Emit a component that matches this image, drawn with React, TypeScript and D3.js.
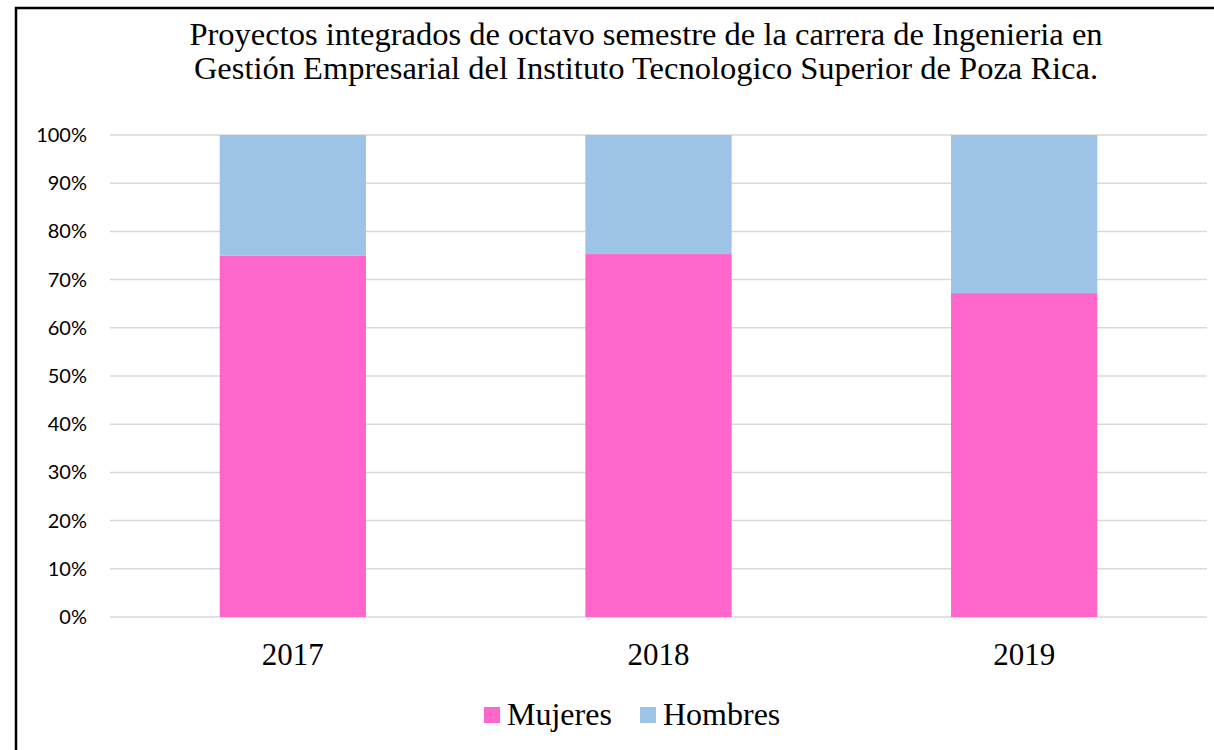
import React from "react";
import * as d3 from "d3";

const categories = ["2017", "2018", "2019"];
const mujeres = [75.0, 75.3, 67.2];
const hombres = [25.0, 24.7, 32.8];
const yTicks = [0, 10, 20, 30, 40, 50, 60, 70, 80, 90, 100];
const seriesNames = ["Mujeres", "Hombres"];
const seriesColors = ["#FF66CC", "#9DC3E6"];
const titleLines = [
  "Proyectos integrados de octavo semestre de la carrera de Ingenieria en",
  "Gestión Empresarial del Instituto Tecnologico Superior de Poza Rica.",
];

export default function App() {
  const W = 1214, H = 750;
  const left = 110, right = 1207, top = 135, bottom = 617;
  const x = d3.scaleBand().domain(categories).range([left, right]).paddingInner(0.6).paddingOuter(0.3);
  const y = d3.scaleLinear().domain([0, 100]).range([bottom, top]);
  const rows = categories.map((c, i) => ({ cat: c, Mujeres: mujeres[i], Hombres: hombres[i] }));
  const stack = d3.stack<any>().keys(seriesNames)(rows);

  return (
    <svg width={W} height={H} style={{ position: "absolute", left: 0, top: 0, background: "#fff" }}>
      <rect x={16} y={8} width={1220} height={760} fill="#fff" stroke="#000" strokeWidth={2.5} />
      {titleLines.map((t, i) => (
        <text key={i} x={646} y={45 + i * 34} textAnchor="middle" fontFamily="Liberation Serif" fontSize={32.5} fill="#000">
          {t}
        </text>
      ))}
      {yTicks.map((t) => (
        <g key={t}>
          <line x1={left} x2={right} y1={y(t)} y2={y(t)} stroke="#D9D9D9" strokeWidth={1.5} />
          <text x={87} y={y(t) + 7} textAnchor="end" fontFamily="Lato" fontSize={20} fill="#000">
            {t}%
          </text>
        </g>
      ))}
      {stack.map((s, si) =>
        s.map((d, i) => (
          <rect
            key={si + "-" + i}
            x={x(categories[i])}
            width={x.bandwidth()}
            y={y(d[1])}
            height={y(d[0]) - y(d[1])}
            fill={seriesColors[si]}
          />
        ))
      )}
      {categories.map((c) => (
        <text key={c} x={(x(c) as number) + x.bandwidth() / 2} y={665} textAnchor="middle" fontFamily="Liberation Serif" fontSize={31} fill="#000">
          {c}
        </text>
      ))}
      {seriesNames.map((n, i) => {
        const lx = [484, 640][i];
        return (
          <g key={n}>
            <rect x={lx} y={707} width={16} height={16} fill={seriesColors[i]} />
            <text x={lx + 23} y={725} fontFamily="Liberation Serif" fontSize={32} fill="#000">
              {n}
            </text>
          </g>
        );
      })}
    </svg>
  );
}
